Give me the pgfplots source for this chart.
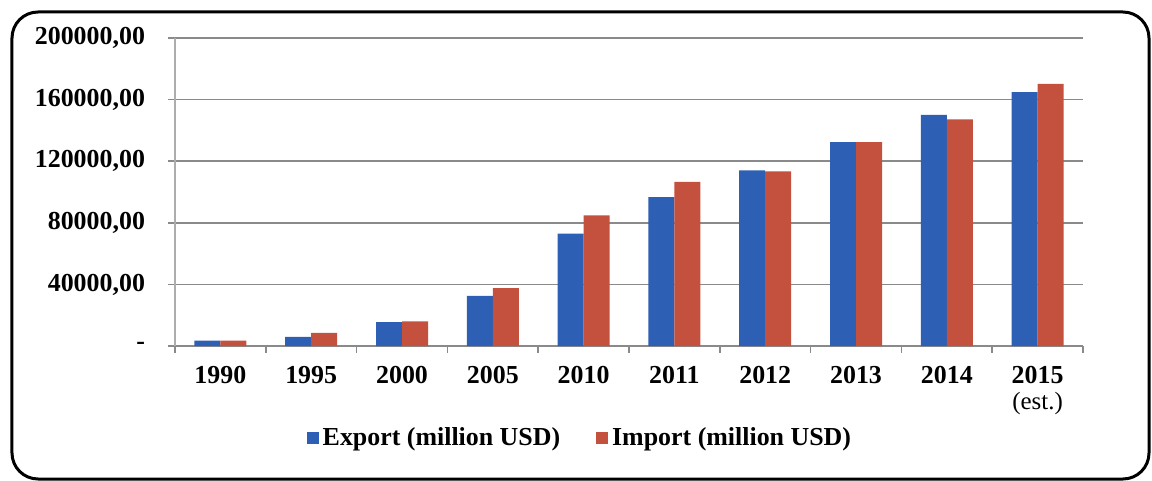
\documentclass[border=0pt]{standalone}
\usepackage{pgfplots}
\pgfplotsset{compat=1.18}
\usepackage{fontspec}
\setmainfont{Liberation Serif}
\definecolor{expblue}{HTML}{2D5FB4}
\definecolor{impred}{HTML}{C4503E}
\definecolor{gridgray}{HTML}{8A8A8A}
\begin{document}
\begin{tikzpicture}
\begin{axis}[
  name=ax,
  scale only axis,
  width=454bp, height=154bp,
  xmin=-0.5, xmax=9.5,
  ymin=0, ymax=200000,
  ybar=0pt, bar width=13bp,
  axis x line*=bottom, axis y line*=left,
  axis line style={gridgray, line width=0.8bp},
  y axis line style={draw=gridgray!70},
  tick align=outside,
  xtick={0,...,9},
  major x tick style={draw=none},
  minor xtick={-0.5,0.5,...,9.5},
  minor x tick style={gridgray, line width=0.8bp},
  minor tick length=3.5bp,
  xticklabels={1990,1995,2000,2005,2010,2011,2012,2013,2014,{2015\\[-1bp]{\mdseries\fontsize{12.5}{13}\selectfont (est.)}}},
  xticklabel style={align=center, font=\bfseries\fontsize{13}{14}\selectfont, yshift=-3bp},
  scaled y ticks=false,
  ytick={0,40000,...,200000},
  yticklabels={{-},{40000,00},{80000,00},{120000,00},{160000,00},{200000,00}},
  yticklabel style={font=\bfseries\fontsize{13}{14}\selectfont, xshift=-8bp},
  major y tick style={gridgray, line width=0.8bp},
  major tick length=3.5bp,
  ymajorgrids,
  grid style={gridgray, line width=0.8bp},
  /pgf/number format/assume math mode=true,
  legend columns=2,
  legend style={at={(0.447,-0.30)}, anchor=center, draw=none, fill=none,
    font=\bfseries\fontsize{13}{14}\selectfont,
    /tikz/every even column/.append style={column sep=16bp}},
  legend image code/.code={\fill[#1] (0bp,-3bp) rectangle (6bp,3bp);},
]
% Export, million USD
\addplot[fill=expblue, draw=none] coordinates {
  (0,3500) (1,6000) (2,15500) (3,32600) (4,73000)
  (5,96700) (6,114000) (7,132400) (8,150100) (9,164800)};
% Import, million USD
\addplot[fill=impred, draw=none] coordinates {
  (0,3500) (1,8600) (2,16000) (3,37600) (4,84900)
  (5,106500) (6,113400) (7,132400) (8,147100) (9,170200)};
\legend{Export (million USD), Import (million USD)}
\end{axis}
% page size and rounded frame, placed from the plot box's lower left corner
\begin{scope}[shift={(ax.south west)}]
  \path[use as bounding box] (-87.5bp,-67.5bp) rectangle ++(576bp,240.5bp);
  \draw[line width=1.5bp, rounded corners=13bp] (-81.5bp,-66.5bp) rectangle (487bp,167bp);
\end{scope}
\end{tikzpicture}
\end{document}
